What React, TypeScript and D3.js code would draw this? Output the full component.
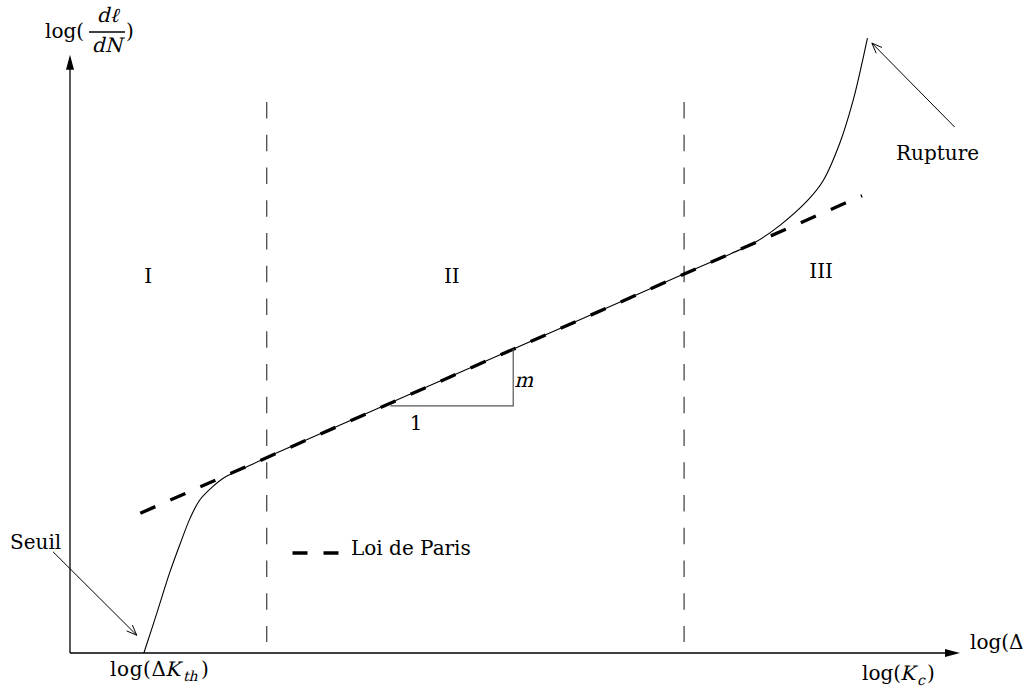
import React from 'react';
import * as d3 from 'd3';

const W = 1031;
const H = 690;

// Crack growth curve: log(dl/dN) versus log(ΔK), arbitrary log units
const curveX = [0.83, 0.98, 1.12, 1.24, 1.35, 1.46, 1.60, 1.73, 1.87, 2.05, 2.30, 3.71, 5.39, 7.08, 7.42, 7.70, 7.98, 8.28, 8.46, 8.65, 8.80, 8.90, 8.96];
const curveY = [0.00, 0.67, 1.31, 1.79, 2.20, 2.50, 2.71, 2.86, 2.96, 3.08, 3.25, 4.15, 5.22, 6.30, 6.51, 6.70, 6.98, 7.37, 7.70, 8.32, 9.02, 9.63, 10.03];

// Paris law line (regime II fit)
const parisX = [0.79, 8.90];
const parisY = [2.28, 7.46];

// Regime boundaries
const boundaryX = [2.21, 6.90];
const boundaryY = [0.18, 8.99];

// Regime labels
const regionNames = ['I', 'II', 'III'];
const regionX = [0.88, 4.29, 8.44];
const regionY = [6.04, 6.04, 6.12];

// Slope triangle
const slopeX = [3.60, 4.98];
const slopeY = [4.03, 4.96];

// Axis extents
const axisXMax = 10.0;
const axisYMax = 9.76;

// Annotation arrows [fromX, fromY, toX, toY]
const seuilArrow = [-0.19, 1.65, 0.75, 0.29];
const ruptureArrow = [9.94, 8.58, 9.01, 9.95];

// Legend sample
const legendX = [2.50, 3.04];
const legendY = 1.63;

const FONT = "'DejaVu Serif', serif";
const SKEW = -14;

export default function App() {
  const x = d3.scaleLinear().domain([0, 10]).range([70, 960]);
  const y = d3.scaleLinear().domain([0, 10]).range([653, 40]);

  const pts: [number, number][] = curveX.map((v, i) => [v, curveY[i]]);
  const line = d3
    .line<[number, number]>()
    .x((d) => x(d[0]))
    .y((d) => y(d[1]))
    .curve(d3.curveCatmullRom.alpha(0.5));

  const openArrow = (a: number[]) => {
    const x1 = x(a[0]), y1 = y(a[1]), x2 = x(a[2]), y2 = y(a[3]);
    const ang = Math.atan2(y2 - y1, x2 - x1);
    const L = 11, spread = 0.38;
    const p1 = [x2 - L * Math.cos(ang - spread), y2 - L * Math.sin(ang - spread)];
    const p2 = [x2 - L * Math.cos(ang + spread), y2 - L * Math.sin(ang + spread)];
    return (
      <g stroke="#000" strokeWidth={1} fill="none">
        <line x1={x1} y1={y1} x2={x2} y2={y2} />
        <polyline points={`${p1[0]},${p1[1]} ${x2},${y2} ${p2[0]},${p2[1]}`} />
      </g>
    );
  };

  const ox = x(0), oy = y(0);
  const xTip = x(axisXMax), yTip = y(axisYMax);

  const textStyle = { fontFamily: FONT, fontSize: 20 } as const;

  const Ital = ({ tx, ty, size = 20, anchor = 'start', children }: any) => (
    <text
      transform={`translate(${tx},${ty}) skewX(${SKEW})`}
      textAnchor={anchor}
      style={{ fontFamily: FONT, fontSize: size }}
    >
      {children}
    </text>
  );

  return (
    <svg
      width={W}
      height={H}
      style={{ position: 'absolute', left: 0, top: 0, background: '#fff' }}
    >
      {/* axes */}
      <line x1={ox} y1={oy} x2={xTip - 12} y2={oy} stroke="#000" strokeWidth={1.3} />
      <polygon points={`${xTip},${oy} ${xTip - 15},${oy - 4} ${xTip - 15},${oy + 4}`} fill="#000" />
      <line x1={ox} y1={oy} x2={ox} y2={yTip + 12} stroke="#000" strokeWidth={1.3} />
      <polygon points={`${ox},${yTip} ${ox - 4},${yTip + 15} ${ox + 4},${yTip + 15}`} fill="#000" />

      {/* regime boundaries */}
      {boundaryX.map((bx, i) => (
        <line
          key={i}
          x1={x(bx)}
          x2={x(bx)}
          y1={y(boundaryY[1])}
          y2={y(boundaryY[0])}
          stroke="#555"
          strokeWidth={1.4}
          strokeDasharray="16.5 16.25"
        />
      ))}

      {/* Paris line */}
      <line
        x1={x(parisX[0])}
        y1={y(parisY[0])}
        x2={x(parisX[1])}
        y2={y(parisY[1])}
        stroke="#000"
        strokeWidth={3.3}
        strokeDasharray="16.4 16.4"
      />

      {/* crack growth curve */}
      <path d={line(pts) || ''} fill="none" stroke="#000" strokeWidth={1.1} />

      {/* slope triangle */}
      <polyline
        points={`${x(slopeX[0])},${y(slopeY[0])} ${x(slopeX[1])},${y(slopeY[0])} ${x(slopeX[1])},${y(slopeY[1])}`}
        fill="none"
        stroke="#555"
        strokeWidth={1.2}
      />
      <Ital tx={x(slopeX[1]) + 1} ty={y(slopeY[0]) - 19}>m</Ital>
      <text x={416} y={430} textAnchor="middle" style={textStyle}>1</text>

      {/* regime labels */}
      {regionNames.map((n, i) => (
        <text key={n} x={x(regionX[i])} y={y(regionY[i])} textAnchor="middle" style={textStyle}>
          {n}
        </text>
      ))}

      {/* legend */}
      <line
        x1={x(legendX[0])}
        x2={x(legendX[1])}
        y1={y(legendY)}
        y2={y(legendY)}
        stroke="#000"
        strokeWidth={3.5}
        strokeDasharray="15 16"
      />
      <text x={351} y={555} style={textStyle}>Loi de Paris</text>

      {/* annotations */}
      {openArrow(seuilArrow)}
      <text x={10} y={549} style={textStyle}>Seuil</text>
      {openArrow(ruptureArrow)}
      <text x={896} y={160} style={textStyle}>Rupture</text>

      {/* y-axis label */}
      <text x={45} y={38} style={textStyle}>log(</text>
      <Ital tx={108} ty={22} anchor="middle">dℓ</Ital>
      <line x1={89} x2={125} y1={32} y2={32} stroke="#000" strokeWidth={1.3} />
      <Ital tx={107} ty={52} anchor="middle">dN</Ital>
      <text x={126} y={38} style={textStyle}>)</text>

      {/* x-axis labels */}
      <text x={110} y={676} style={{ ...textStyle, letterSpacing: 0.6 }}>log(Δ</text>
      <Ital tx={165} ty={676}>K</Ital>
      <Ital tx={183} ty={681} size={14}>th</Ital>
      <text x={201} y={676} style={textStyle}>)</text>

      <text x={862} y={680} style={textStyle}>log(</text>
      <Ital tx={900} ty={680}>K</Ital>
      <Ital tx={917} ty={685} size={14}>c</Ital>
      <text x={927} y={680} style={textStyle}>)</text>

      <text x={970} y={649} style={textStyle}>log(Δ</text>
    </svg>
  );
}
